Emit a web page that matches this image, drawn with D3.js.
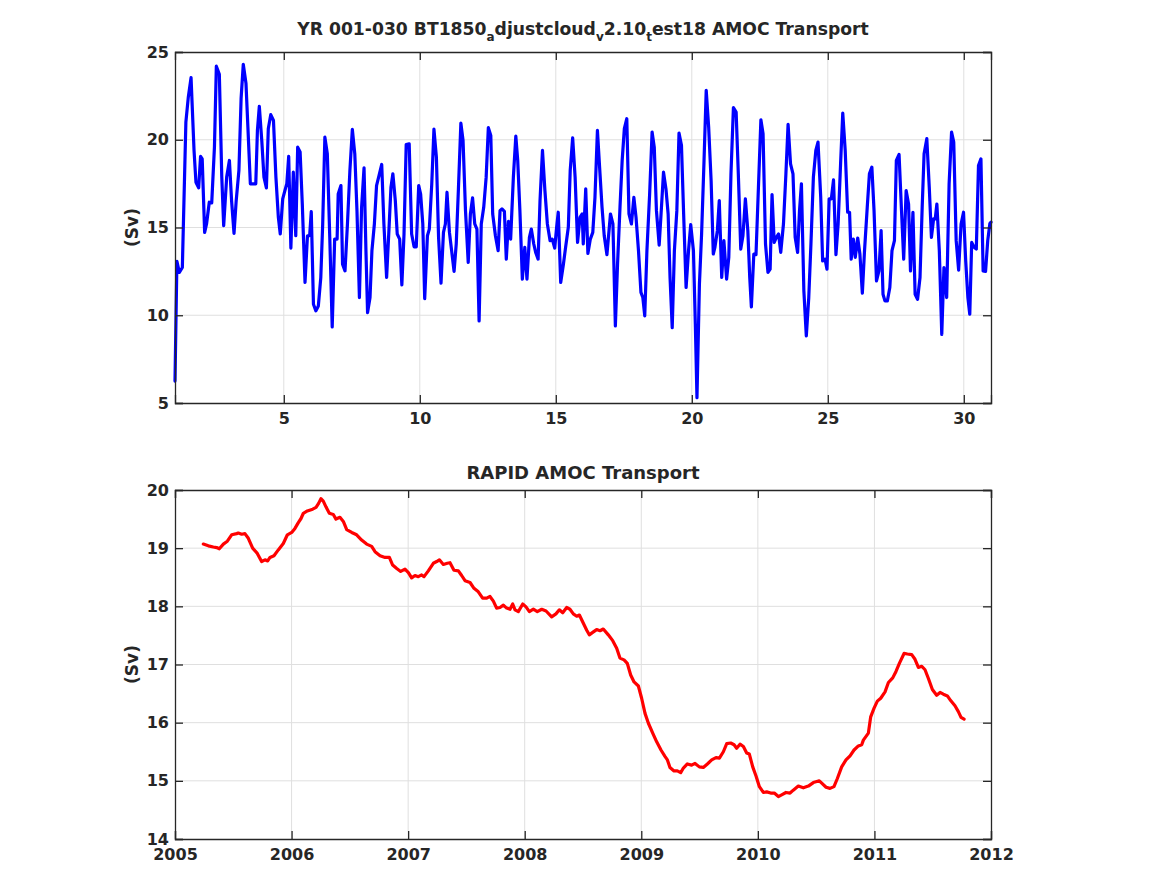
<!DOCTYPE html>
<html>
<head>
<meta charset="utf-8">
<script src="https://cdn.jsdelivr.net/npm/d3@7"></script>
<style>
  html, body { margin: 0; padding: 0; background: #ffffff; }
  svg { display: block; }
  text { font-family: "DejaVu Sans", sans-serif; font-weight: bold; fill: #262626; }
</style>
</head>
<body>
<svg id="chart" width="1167" height="875"></svg>
<script>
// ---------------- DATA ----------------
// Model AMOC transport (Sv) vs model year, [year, Sv]
const modelYears01to06 = [
  [1.00,6.25],[1.07,13.07],[1.16,12.44],[1.27,12.72],[1.40,21.0],[1.49,22.44],[1.59,23.54],[1.70,19.39],[1.77,17.58],[1.87,17.26],
  [1.94,19.05],[2.00,18.91],[2.09,14.72],[2.16,15.2],[2.26,16.44],[2.35,16.4],[2.45,19.58],[2.52,24.19],[2.63,23.73],[2.72,17.87],
  [2.79,15.1],[2.90,17.87],[3.00,18.82],[3.08,16.53],[3.17,14.67],[3.25,16.53],[3.35,18.25],[3.43,22.34],[3.51,24.3],[3.61,23.2],
  [3.68,20.72],[3.77,17.49],[3.88,17.49],[3.97,17.49],[4.03,20.53],[4.10,21.9],[4.19,19.96],[4.27,17.87],[4.36,17.26],[4.43,20.63],
  [4.52,21.43],[4.62,21.1],[4.71,17.87],[4.80,15.58],[4.87,14.63],[4.96,16.63],[5.04,17.1],[5.11,17.49],[5.18,19.05],[5.26,13.83],
  [5.35,18.15],[5.44,14.53],[5.51,19.58],[5.60,19.3],[5.68,16.34],[5.78,11.87]
];
const modelYears06to11 = [
  [5.87,14.53],[5.95,14.53],[6.01,15.9],[6.09,10.63],[6.18,10.25],[6.27,10.53],[6.36,12.15],[6.43,15.2],[6.51,20.15],[6.60,19.2],
  [6.69,14.44],[6.78,9.33],[6.87,14.34],[6.96,14.34],[7.00,16.91],[7.10,17.39],[7.16,12.91],[7.25,12.53],[7.34,15.2],[7.43,18.25],
  [7.52,20.59],[7.61,19.2],[7.69,15.96],[7.78,11.01],[7.86,16.15],[7.95,18.4],[8.02,13.68],[8.08,10.15],[8.17,11.01],[8.24,13.68],
  [8.33,15.2],[8.41,17.39],[8.50,17.96],[8.60,18.59],[8.68,15.2],[8.78,12.15],[8.87,15.01],[8.94,17.3],[9.01,18.06],[9.10,16.53],
  [9.17,14.63],[9.26,14.34],[9.34,11.73],[9.42,14.63],[9.50,19.73],[9.61,19.77],[9.70,14.63],[9.79,13.9],[9.87,13.9],[9.96,17.39],
  [10.03,16.91],[10.11,15.2],[10.18,10.95],[10.28,14.53],[10.35,14.91],[10.44,17.49],[10.52,20.61],[10.61,19.01],[10.69,14.44],[10.78,11.83],
  [10.87,14.72],[10.94,15.2]
];
const modelYears11to16 = [
  [11.00,17.01],[11.09,14.72],[11.17,13.68],[11.26,12.5],[11.34,14.06],[11.42,17.2],[11.51,20.95],[11.59,19.96],[11.68,15.96],[11.78,13.01],
  [11.86,15.77],[11.94,16.69],[12.02,15.2],[12.10,14.91],[12.18,9.68],[12.26,15.2],[12.35,16.15],[12.44,17.87],[12.52,20.69],[12.61,20.25],
  [12.68,15.77],[12.78,14.53],[12.88,13.68],[12.95,15.96],[13.02,16.06],[13.11,15.92],[13.18,13.2],[13.26,15.35],[13.34,14.34],[13.44,17.87],
  [13.53,20.21],[13.60,18.82],[13.68,15.96],[13.77,12.06],[13.86,13.87],[13.94,12.06],[14.03,14.44],[14.10,14.91],[14.19,14.06],[14.26,13.58],
  [14.35,13.2],[14.42,16.53],[14.51,19.39],[14.60,17.1],[14.69,15.2],[14.79,14.25],[14.87,14.34],[14.96,13.83],[15.03,15.01],[15.09,15.87],
  [15.18,11.87],[15.28,12.91],[15.36,13.87],[15.46,15.01],[15.53,18.25],[15.62,20.11],[15.71,17.87]
];
const modelYears16to21 = [
  [15.80,14.15],[15.89,15.58],[15.97,15.77],[16.01,14.06],[16.10,17.2],[16.18,13.52],[16.27,14.34],[16.36,14.72],[16.44,16.72],[16.53,20.53],
  [16.61,18.44],[16.70,16.15],[16.78,14.53],[16.88,13.45],[17.01,15.77],[17.10,15.2],[17.19,9.39],[17.27,12.91],[17.36,16.15],[17.44,18.82],
  [17.52,20.63],[17.61,21.2],[17.69,15.77],[17.78,15.2],[17.87,16.72],[17.95,15.58],[18.04,13.68],[18.13,11.3],[18.20,11.01],[18.27,9.96],
  [18.35,13.68],[18.45,16.91],[18.54,20.44],[18.62,19.58],[18.70,15.96],[18.80,14.0],[18.87,15.77],[18.96,18.15],[19.05,17.2],[19.13,15.77],
  [19.20,12.15],[19.28,9.29],[19.36,13.68],[19.45,15.96],[19.53,20.38],[19.62,19.68],[19.70,15.77],[19.79,11.58],[19.88,13.68],[19.96,15.16],
  [20.06,13.68],[20.13,9.49],[20.19,5.3],[20.28,11.77],[20.36,14.63],[20.45,18.82],[20.53,22.82],[20.62,20.72],[20.71,17.68]
];
const modelYears21to26 = [
  [20.79,13.49],[20.85,13.87],[20.94,14.82],[21.01,16.53],[21.10,12.15],[21.18,14.25],[21.28,12.06],[21.36,13.3],[21.44,18.06],[21.53,21.83],
  [21.63,21.58],[21.71,18.06],[21.80,13.77],[21.88,14.53],[21.97,16.63],[22.06,14.82],[22.13,12.15],[22.19,10.48],[22.28,13.49],[22.36,13.45],
  [22.45,17.3],[22.54,21.14],[22.62,20.34],[22.71,14.06],[22.80,12.44],[22.88,12.63],[22.95,16.88],[23.03,14.15],[23.11,14.44],[23.19,14.63],
  [23.27,13.58],[23.37,15.2],[23.46,18.06],[23.54,20.88],[23.63,18.63],[23.72,18.06],[23.80,14.44],[23.89,13.58],[23.96,15.96],[24.03,17.49],
  [24.12,11.39],[24.21,8.82],[24.30,11.01],[24.38,14.06],[24.47,17.87],[24.56,19.39],[24.64,19.87],[24.74,16.72],[24.81,13.1],[24.90,13.2],
  [24.97,12.63],[25.05,16.63],[25.13,16.63],[25.21,17.71],[25.30,13.45],[25.38,15.2],[25.47,18.63],[25.55,21.52],[25.64,19.39]
];
const modelYears26to31 = [
  [25.73,15.87],[25.80,15.87],[25.86,13.2],[25.94,14.34],[26.01,13.3],[26.10,14.4],[26.18,13.49],[26.27,11.26],[26.35,13.68],[26.45,16.15],
  [26.53,18.06],[26.62,18.44],[26.70,15.96],[26.79,11.96],[26.88,12.53],[26.96,14.82],[27.03,11.2],[27.10,10.82],[27.19,10.82],[27.28,11.58],
  [27.36,13.68],[27.45,14.25],[27.52,18.82],[27.62,19.16],[27.71,15.96],[27.79,13.2],[27.88,17.1],[27.97,16.34],[28.04,12.53],[28.13,15.87],
  [28.21,11.2],[28.30,10.91],[28.39,12.15],[28.47,16.15],[28.54,19.2],[28.64,20.06],[28.73,17.3],[28.81,14.44],[28.89,15.49],[28.95,15.49],
  [29.01,16.34],[29.10,13.68],[29.19,8.91],[29.27,12.72],[29.37,11.01],[29.46,17.49],[29.55,20.44],[29.63,19.87],[29.72,14.25],[29.81,12.57],
  [29.90,15.2],[29.99,15.87],[30.07,13.1],[30.15,11.01],[30.22,10.06],[30.29,14.15],[30.38,13.87],[30.46,13.77],[30.54,18.53],[30.63,18.91],
  [30.71,12.53],[30.80,12.5],[30.88,14.25],[30.96,15.24],[31.0,15.3]
];

// RAPID AMOC transport (Sv) vs calendar year, [year, Sv]
const rapid2005to2007 = [
  [2005.243,19.07],[2005.286,19.04],[2005.329,19.02],[2005.357,19.01],[2005.380,18.99],[2005.415,19.07],[2005.449,19.12],[2005.486,19.23],
  [2005.529,19.25],[2005.543,19.26],[2005.572,19.24],[2005.600,19.25],[2005.629,19.17],[2005.666,19.0],[2005.706,18.91],[2005.743,18.77],
  [2005.772,18.80],[2005.795,18.78],[2005.815,18.84],[2005.849,18.87],[2005.886,18.97],[2005.929,19.08],[2005.964,19.23],[2006.001,19.27],
  [2006.029,19.34],[2006.058,19.44],[2006.081,19.51],[2006.101,19.60],[2006.135,19.64],[2006.181,19.67],[2006.210,19.70],[2006.232,19.77],
  [2006.252,19.85],[2006.272,19.81],[2006.295,19.71],[2006.324,19.60],[2006.358,19.58],[2006.381,19.50],[2006.415,19.53],[2006.444,19.46],
  [2006.473,19.32],[2006.516,19.27],[2006.558,19.23],[2006.601,19.14],[2006.644,19.07],[2006.687,19.03],[2006.716,18.94],[2006.759,18.87],
  [2006.802,18.84],[2006.839,18.84],[2006.867,18.71],[2006.902,18.65],[2006.936,18.60],[2006.973,18.64]
];
const rapid2007to2009 = [
  [2007.002,18.58],[2007.030,18.49],[2007.059,18.53],[2007.087,18.51],[2007.116,18.54],[2007.136,18.51],[2007.173,18.61],[2007.216,18.74],
  [2007.245,18.77],[2007.268,18.80],[2007.302,18.72],[2007.336,18.74],[2007.359,18.75],[2007.393,18.62],[2007.431,18.61],[2007.459,18.53],
  [2007.488,18.44],[2007.531,18.41],[2007.565,18.31],[2007.602,18.25],[2007.639,18.14],[2007.674,18.14],[2007.702,18.17],[2007.731,18.09],
  [2007.759,17.97],[2007.788,17.98],[2007.817,18.02],[2007.845,17.97],[2007.874,17.95],[2007.897,18.04],[2007.917,17.94],[2007.945,17.91],
  [2007.983,18.04],[2008.011,17.99],[2008.040,17.91],[2008.074,17.95],[2008.108,17.91],[2008.146,17.95],[2008.183,17.92],[2008.231,17.82],
  [2008.268,17.87],[2008.297,17.94],[2008.326,17.89],[2008.360,17.98],[2008.388,17.95],[2008.417,17.87],[2008.446,17.83],[2008.469,17.85],
  [2008.503,17.71],[2008.532,17.59],[2008.554,17.51],[2008.589,17.56],[2008.617,17.60],[2008.646,17.58],[2008.674,17.61],[2008.717,17.51],
  [2008.755,17.41],[2008.789,17.28],[2008.817,17.11],[2008.852,17.08],[2008.880,17.02],[2008.909,16.82],[2008.938,16.70],[2008.975,16.63]
];
const rapid2009to2012 = [
  [2009.003,16.42],[2009.032,16.16],[2009.061,15.99],[2009.098,15.82],[2009.132,15.67],[2009.169,15.53],[2009.203,15.42],[2009.224,15.36],
  [2009.246,15.23],[2009.281,15.17],[2009.309,15.17],[2009.338,15.14],[2009.361,15.22],[2009.395,15.29],[2009.432,15.27],[2009.461,15.30],
  [2009.498,15.24],[2009.532,15.23],[2009.567,15.29],[2009.604,15.36],[2009.641,15.40],[2009.670,15.39],[2009.704,15.50],[2009.733,15.64],
  [2009.767,15.65],[2009.796,15.62],[2009.818,15.56],[2009.847,15.63],[2009.876,15.59],[2009.904,15.48],[2009.927,15.46],[2009.956,15.24],
  [2009.985,15.08],[2010.013,14.90],[2010.047,14.80],[2010.076,14.81],[2010.110,14.79],[2010.141,14.79],[2010.176,14.73],[2010.204,14.76],
  [2010.241,14.80],[2010.276,14.79],[2010.304,14.84],[2010.347,14.91],[2010.390,14.88],[2010.433,14.91],[2010.476,14.97],[2010.527,15.00],
  [2010.548,14.96],[2010.585,14.89],[2010.619,14.87],[2010.653,14.90],[2010.682,15.04],[2010.719,15.24],[2010.756,15.36],[2010.791,15.43],
  [2010.825,15.53],[2010.862,15.60],[2010.891,15.62],[2010.905,15.70],[2010.948,15.82],[2010.968,16.10],[2010.997,16.25],[2011.025,16.37],
  [2011.054,16.42],[2011.091,16.53],[2011.120,16.69],[2011.157,16.77],[2011.185,16.88],[2011.214,17.02],[2011.254,17.19],[2011.283,17.18],
  [2011.320,17.17],[2011.348,17.09],[2011.377,16.95],[2011.406,16.97],[2011.434,16.91],[2011.463,16.76],[2011.497,16.57],[2011.534,16.47],
  [2011.563,16.52],[2011.591,16.49],[2011.626,16.46],[2011.654,16.38],[2011.691,16.29],[2011.720,16.19],[2011.743,16.09],[2011.769,16.06]
];

// Axis ticks
const modelXTicks = [5, 10, 15, 20, 25, 30];
const modelYTicks = [5, 10, 15, 20, 25];
const rapidXTicks = [2005, 2006, 2007, 2008, 2009, 2010, 2011, 2012];
const rapidYTicks = [14, 15, 16, 17, 18, 19, 20];

// Titles: segments with subscript flags (TeX-style underscores)
const modelTitleParts = [
  { t: "YR 001-030 BT1850", sub: false },
  { t: "a", sub: true },
  { t: "djustcloud", sub: false },
  { t: "v", sub: true },
  { t: "2.10", sub: false },
  { t: "t", sub: true },
  { t: "est18 AMOC Transport", sub: false }
];
const rapidTitle = "RAPID AMOC Transport";
const yLabel = "(Sv)";

// ---------------- DRAW ----------------
const modelSeries = [].concat(modelYears01to06, modelYears06to11, modelYears11to16,
                              modelYears16to21, modelYears21to26, modelYears26to31);
const rapidSeries = [].concat(rapid2005to2007, rapid2007to2009, rapid2009to2012);

const svg = d3.select("#chart");
const AX = "#262626";
const GRID = "#dfdfdf";

function panel(opts) {
  const { left, right, top, bottom, xDomain, yDomain, xTicks, yTicks, data, color } = opts;
  const x = d3.scaleLinear().domain(xDomain).range([left, right]);
  const y = d3.scaleLinear().domain(yDomain).range([bottom, top]);
  const g = svg.append("g");

  // grid
  g.selectAll(".gx").data(xTicks.filter(d => d > xDomain[0] && d < xDomain[1])).enter()
    .append("line")
    .attr("x1", d => x(d)).attr("x2", d => x(d))
    .attr("y1", top).attr("y2", bottom)
    .attr("stroke", GRID).attr("stroke-width", 1);
  g.selectAll(".gy").data(yTicks.filter(d => d > yDomain[0] && d < yDomain[1])).enter()
    .append("line")
    .attr("x1", left).attr("x2", right)
    .attr("y1", d => y(d)).attr("y2", d => y(d))
    .attr("stroke", GRID).attr("stroke-width", 1);

  // data line
  const line = d3.line().x(d => x(d[0])).y(d => y(d[1]));
  g.append("path").datum(data)
    .attr("d", line)
    .attr("fill", "none")
    .attr("stroke", color)
    .attr("stroke-width", 3.2)
    .attr("stroke-linejoin", "round")
    .attr("stroke-linecap", "round");

  // axes (MATLAB style: ticks inward, box)
  const tl = 8;
  const bottomAxis = d3.axisBottom(x).tickValues(xTicks).tickSize(-tl).tickPadding(10).tickFormat(d3.format("d"));
  const topAxis = d3.axisTop(x).tickValues(xTicks).tickSize(-tl).tickFormat("");
  const leftAxis = d3.axisLeft(y).tickValues(yTicks).tickSize(-tl).tickPadding(6).tickFormat(d3.format("d"));
  const rightAxis = d3.axisRight(y).tickValues(yTicks).tickSize(-tl).tickFormat("");

  const styleAxis = sel => {
    sel.select(".domain").attr("stroke", AX).attr("stroke-width", 1.3);
    sel.selectAll(".tick line").attr("stroke", AX).attr("stroke-width", 1.3);
    sel.selectAll(".tick text")
      .attr("fill", AX)
      .style("font-family", "'DejaVu Sans', sans-serif")
      .style("font-weight", "bold")
      .style("font-size", "16px");
  };
  g.append("g").attr("transform", `translate(0,${bottom})`).call(bottomAxis).call(styleAxis);
  g.append("g").attr("transform", `translate(0,${top})`).call(topAxis).call(styleAxis);
  g.append("g").attr("transform", `translate(${left},0)`).call(leftAxis).call(styleAxis);
  g.append("g").attr("transform", `translate(${right},0)`).call(rightAxis).call(styleAxis);

  // y label
  g.append("text")
    .attr("transform", `translate(${left - 37},${(top + bottom) / 2}) rotate(-90)`)
    .attr("text-anchor", "middle")
    .style("font-size", "17px")
    .text(yLabel);
  return g;
}

panel({
  left: 175, right: 991, top: 52, bottom: 403,
  xDomain: [1, 31], yDomain: [5, 25],
  xTicks: modelXTicks, yTicks: modelYTicks,
  data: modelSeries, color: "#0000ff"
});

panel({
  left: 175, right: 991, top: 490, bottom: 839,
  xDomain: [2005, 2012], yDomain: [14, 20],
  xTicks: rapidXTicks, yTicks: rapidYTicks,
  data: rapidSeries, color: "#ff0000"
});

// titles
const t1 = svg.append("text")
  .attr("x", 583).attr("y", 35)
  .attr("text-anchor", "middle")
  .style("font-size", "17.2px");
modelTitleParts.forEach((p, i) => {
  const prev = i > 0 ? modelTitleParts[i - 1] : null;
  let dy = 0;
  if (p.sub) dy = 6;
  else if (prev && prev.sub) dy = -6;
  const ts = t1.append("tspan").attr("dy", dy).text(p.t);
  if (p.sub) ts.style("font-size", "12px");
});

svg.append("text")
  .attr("x", 583).attr("y", 479)
  .attr("text-anchor", "middle")
  .style("font-size", "18px")
  .text(rapidTitle);
</script>
</body>
</html>
